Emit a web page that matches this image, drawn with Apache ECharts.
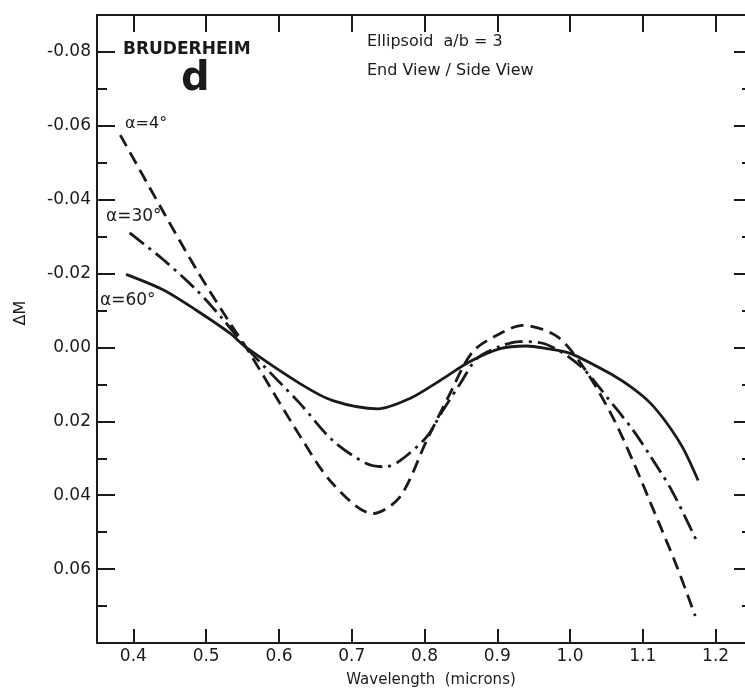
<!DOCTYPE html>
<html>
<head>
<meta charset="utf-8">
<script src="https://cdn.jsdelivr.net/npm/echarts@6/dist/echarts.min.js"></script>
<style>
html,body{margin:0;padding:0;background:#fff;overflow:hidden;}
#chart{width:745px;height:697px;}
</style>
</head>
<body>
<div id="chart"></div>
<script>
// ---- data ----
const xTicks = [0.4, 0.5, 0.6, 0.7, 0.8, 0.9, 1.0, 1.1, 1.2];
const yMajorTicks = [-0.08, -0.06, -0.04, -0.02, 0.00, 0.02, 0.04, 0.06];
const yMinorTicks = [-0.07, -0.05, -0.03, -0.01, 0.01, 0.03, 0.05, 0.07];

// alpha = 4 deg (dashed)
const lam4 = [0.382, 0.442, 0.487, 0.533, 0.555, 0.629, 0.674, 0.729, 0.766, 0.803, 0.835, 0.866, 0.904, 0.935, 0.982, 1.020, 1.059, 1.087, 1.110, 1.147, 1.172];
const dm4  = [-0.0575, -0.0364, -0.021, -0.0065, 0.0, 0.024, 0.0369, 0.045, 0.0405, 0.0252, 0.0125, 0.0012, -0.0038, -0.006, -0.003, 0.0058, 0.019, 0.031, 0.0418, 0.0594, 0.0727];

// alpha = 30 deg (dash-dot)
const lam30 = [0.395, 0.442, 0.487, 0.5245, 0.555, 0.629, 0.674, 0.721, 0.746, 0.766, 0.803, 0.825, 0.849, 0.872, 0.904, 0.931, 0.965, 1.014, 1.059, 1.087, 1.110, 1.140, 1.174];
const dm30  = [-0.031, -0.0236, -0.0155, -0.0073, 0.0, 0.0152, 0.0252, 0.0315, 0.0323, 0.0307, 0.0242, 0.0171, 0.0098, 0.0030, -0.0003, -0.0016, -0.0010, 0.005, 0.0155, 0.0225, 0.0293, 0.0388, 0.0524];

// alpha = 60 deg (solid)
const lam60 = [0.390, 0.442, 0.487, 0.533, 0.555, 0.629, 0.674, 0.736, 0.780, 0.821, 0.8625, 0.904, 0.940, 0.968, 1.000, 1.059, 1.086, 1.110, 1.133, 1.155, 1.176];
const dm60  = [-0.0198, -0.0155, -0.010, -0.0038, 0.0, 0.0098, 0.0144, 0.0166, 0.0138, 0.009, 0.0038, 0.0003, -0.0004, 0.0003, 0.0016, 0.0075, 0.0110, 0.0150, 0.0205, 0.0272, 0.036];

const xMin = 0.35, xMax = 1.25, yMin = -0.09, yMax = 0.08;

const FONT = 'DejaVu Sans';
const INK = '#1a1a1a';

function pairs(xs, ys) { return xs.map((x, i) => [x, ys[i]]); }

const chart = echarts.init(document.getElementById('chart'), null, {renderer: 'canvas'});

function xAx(pos, len, showLabel) {
  return {
    type: 'value', position: pos, min: xMin, max: xMax,
    axisLine: {show: true, onZero: false, lineStyle: {color: INK, width: 2}},
    axisTick: {show: true, inside: true, length: len, customValues: xTicks, lineStyle: {color: INK, width: 2}},
    axisLabel: {show: showLabel, customValues: xTicks, margin: 5, color: INK, fontFamily: FONT, fontSize: 17,
      formatter: v => v.toFixed(1)},
    splitLine: {show: false}
  };
}
function yAx(pos, ticks, len, showLabel, showLine) {
  return {
    type: 'value', position: pos, min: yMin, max: yMax, inverse: true,
    axisLine: {show: showLine, onZero: false, lineStyle: {color: INK, width: 2}},
    axisTick: {show: true, inside: true, length: len, customValues: ticks, lineStyle: {color: INK, width: 2}},
    axisLabel: {show: showLabel, customValues: ticks, margin: 6, color: INK, fontFamily: FONT, fontSize: 17,
      formatter: v => (Math.abs(v) < 1e-9 ? '0.00' : v.toFixed(2))},
    splitLine: {show: false}
  };
}

const lineBase = {type: 'line', showSymbol: false, smooth: 0.3, xAxisIndex: 0, yAxisIndex: 0, z: 5};

chart.setOption({
  backgroundColor: '#ffffff',
  animation: false,
  grid: {left: 97, top: 15, width: 655, height: 628, containLabel: false, outerBoundsMode: 'none'},
  xAxis: [xAx('bottom', 14, true), xAx('top', 17, false)],
  yAxis: [
    yAx('left', yMajorTicks, 18, true, true),
    yAx('left', yMinorTicks, 10, false, false),
    yAx('right', yMajorTicks, 18, false, true),
    yAx('right', yMinorTicks, 10, false, false)
  ],
  series: [
    Object.assign({}, lineBase, {name: 'a=4', data: pairs(lam4, dm4),
      lineStyle: {color: INK, width: 2.8, type: [13, 7]}}),
    Object.assign({}, lineBase, {name: 'a=30', data: pairs(lam30, dm30),
      lineStyle: {color: INK, width: 2.8, type: [18, 6, 3, 6]}}),
    Object.assign({}, lineBase, {name: 'a=60', data: pairs(lam60, dm60),
      lineStyle: {color: INK, width: 2.8, type: 'solid'}})
  ],
  graphic: [
    {type: 'text', left: 123, top: 41, style: {text: 'BRUDERHEIM', font: 'bold 17px "' + FONT + '"', fill: INK}},
    {type: 'text', left: 181, top: 60, style: {text: 'd', font: 'bold 40px "' + FONT + '"', fill: INK}},
    {type: 'text', left: 367, top: 34, style: {text: 'Ellipsoid  a/b = 3', font: '16px "' + FONT + '"', fill: INK}},
    {type: 'text', left: 367, top: 63, style: {text: 'End View / Side View', font: '16px "' + FONT + '"', fill: INK}},
    {type: 'text', left: 125, top: 116, style: {text: 'α=4°', font: '16px "' + FONT + '"', fill: INK}},
    {type: 'text', left: 106, top: 208, style: {text: 'α=30°', font: '17px "' + FONT + '"', fill: INK}},
    {type: 'text', left: 100, top: 292, style: {text: 'α=60°', font: '17px "' + FONT + '"', fill: INK}},
    {type: 'text', x: 431, y: 680, style: {text: 'Wavelength  (microns)', font: '15px "' + FONT + '"', fill: INK, align: 'center', verticalAlign: 'middle'}},
    {type: 'text', x: 21, y: 313, rotation: Math.PI / 2, style: {text: 'ΔM', font: '16px "' + FONT + '"', fill: INK, align: 'center', verticalAlign: 'middle'}}
  ]
});
</script>
</body>
</html>
